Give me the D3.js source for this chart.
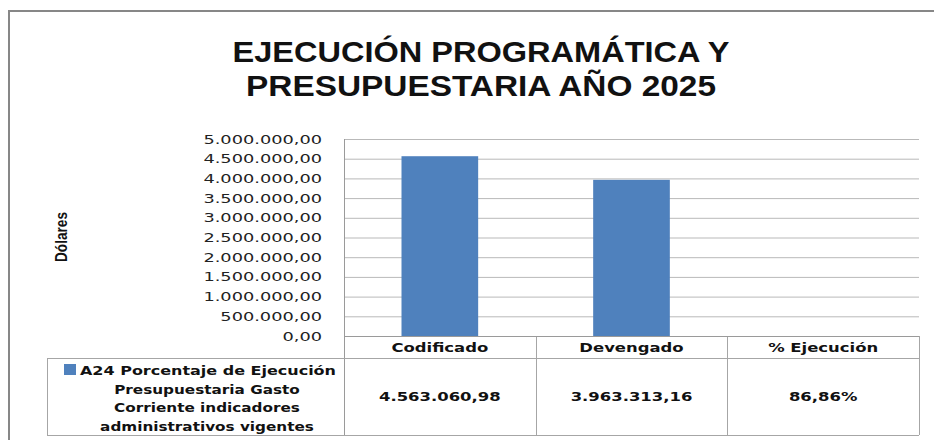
<!DOCTYPE html>
<html>
<head>
<meta charset="utf-8">
<script src="https://cdn.jsdelivr.net/npm/d3@7"></script>
<style>
  body { margin: 0; background: #fff; }
  svg { display: block; }
</style>
</head>
<body>
<div id="chart"></div>
<script>
const titleLines = ["EJECUCIÓN PROGRAMÁTICA Y", "PRESUPUESTARIA AÑO 2025"]
const categories = ["Codificado", "Devengado", "% Ejecución"]
const values = [4563060.98, 3963313.16, 86.86]
const tableLabels = ["4.563.060,98", "3.963.313,16", "86,86%"]
const seriesName = ["A24 Porcentaje de Ejecución", "Presupuestaria Gasto", "Corriente indicadores", "administrativos vigentes"]
const yTicks = [0, 500000, 1000000, 1500000, 2000000, 2500000, 3000000, 3500000, 4000000, 4500000, 5000000]
const yTitle = "Dólares"

const width = 934
const height = 440
const plot = { left: 344, right: 919, top: 139, bottom: 336 }
const tableBottom = 435
const headerBottom = 358
const legendLeft = 47
const barColor = "#4f81bd"
const gridColor = "#b9b9b9"
const tableLine = "#a6a6a6"

const es = d3.formatLocale({ decimal: ",", thousands: ".", grouping: [3], currency: ["", ""] })
const fmt = es.format(",.2f")

const svg = d3.select("#chart").append("svg")
  .attr("width", width)
  .attr("height", height)

// the picture is stretched sideways, so text gets widened too
function stretch(sel, sx) {
  sel.each(function() {
    const w = this.getComputedTextLength()
    d3.select(this).attr("textLength", w * sx).attr("lengthAdjust", "spacingAndGlyphs")
  })
}

// outer frame (only left and top are visible)
svg.append("path")
  .attr("d", `M9,${height + 5} V11 H${width + 5}`)
  .attr("fill", "none")
  .attr("stroke", "#878787")
  .attr("stroke-width", 2)

// title
svg.append("g").selectAll("text")
  .data(titleLines)
  .join("text")
    .attr("x", 481)
    .attr("y", (d, i) => 62 + i * 34)
    .attr("text-anchor", "middle")
    .style("font-family", "'Liberation Sans', Arial, sans-serif")
    .style("font-weight", 700)
    .style("font-size", "30px")
    .attr("fill", "#111")
    .text(d => d)
    .attr("textLength", (d, i) => i === 0 ? 497 : 470)
    .attr("lengthAdjust", "spacingAndGlyphs")

const x = d3.scaleBand()
  .domain(categories)
  .range([plot.left, plot.right])
  .padding(0)

const y = d3.scaleLinear()
  .domain([0, 5000000])
  .range([plot.bottom, plot.top])

// gridlines
svg.append("g").selectAll("line")
  .data(yTicks)
  .join("line")
    .attr("x1", plot.left)
    .attr("x2", plot.right)
    .attr("y1", d => y(d) + 0.5)
    .attr("y2", d => y(d) + 0.5)
    .attr("stroke", gridColor)
    .attr("stroke-width", 1)

// y tick labels
svg.append("g").selectAll("text")
  .data(yTicks)
  .join("text")
    .attr("x", 322)
    .attr("y", d => y(d) + 4.5)
    .attr("text-anchor", "end")
    .style("font-family", "'DejaVu Sans', Verdana, sans-serif")
    .style("font-size", "12.5px")
    .attr("fill", "#222")
    .text(d => fmt(d))
    .call(stretch, 1.42)

// y axis title
svg.append("text")
  .attr("transform", "translate(67,237) rotate(-90)")
  .attr("text-anchor", "middle")
  .style("font-family", "'Liberation Sans', Arial, sans-serif")
  .style("font-weight", 700)
  .style("font-size", "16px")
  .attr("fill", "#111")
  .text(yTitle)
  .attr("textLength", 50)
  .attr("lengthAdjust", "spacingAndGlyphs")

// bars
const barW = x.bandwidth() * 0.4
svg.append("g").selectAll("rect")
  .data(categories)
  .join("rect")
    .attr("x", d => x(d) + (x.bandwidth() - barW) / 2)
    .attr("y", (d, i) => y(values[i]))
    .attr("width", barW)
    .attr("height", (d, i) => y(0) - y(values[i]))
    .attr("fill", barColor)

// data table
const tbl = svg.append("g")
  .attr("stroke", tableLine)
  .attr("stroke-width", 1)

const colEdges = categories.map(d => x(d)).concat([plot.right])
tbl.selectAll("line.v")
  .data(colEdges)
  .join("line")
    .attr("class", "v")
    .attr("x1", d => Math.round(d) + 0.5)
    .attr("x2", d => Math.round(d) + 0.5)
    .attr("y1", (d, i) => i === 0 ? plot.top : plot.bottom)
    .attr("y2", tableBottom)
    .attr("stroke", (d, i) => i === 0 ? "#9a9a9a" : tableLine)

tbl.append("line")
  .attr("x1", plot.left).attr("x2", plot.right)
  .attr("y1", plot.bottom + 0.5).attr("y2", plot.bottom + 0.5)
  .attr("stroke", "#9a9a9a")
tbl.selectAll("line.h")
  .data([headerBottom, tableBottom])
  .join("line")
    .attr("class", "h")
    .attr("x1", legendLeft)
    .attr("x2", plot.right)
    .attr("y1", d => d + 0.5)
    .attr("y2", d => d + 0.5)
tbl.append("line")
  .attr("x1", legendLeft + 0.5).attr("x2", legendLeft + 0.5)
  .attr("y1", headerBottom).attr("y2", tableBottom)

const tableFont = "'DejaVu Sans', Verdana, sans-serif"

// header row
svg.append("g").selectAll("text")
  .data(categories)
  .join("text")
    .attr("x", d => x(d) + x.bandwidth() / 2)
    .attr("y", 352)
    .attr("text-anchor", "middle")
    .style("font-family", tableFont)
    .style("font-weight", 700)
    .style("font-size", "12px")
    .attr("fill", "#111")
    .text(d => d)
    .call(stretch, 1.37)

// value row
svg.append("g").selectAll("text")
  .data(categories)
  .join("text")
    .attr("x", d => x(d) + x.bandwidth() / 2)
    .attr("y", 401)
    .attr("text-anchor", "middle")
    .style("font-family", tableFont)
    .style("font-weight", 700)
    .style("font-size", "12px")
    .attr("fill", "#111")
    .text((d, i) => tableLabels[i])
    .call(stretch, 1.37)

// legend key in the table
svg.append("rect")
  .attr("x", 64)
  .attr("y", 364)
  .attr("width", 12)
  .attr("height", 11)
  .attr("fill", barColor)

const legendText = svg.append("g").selectAll("text")
  .data(seriesName)
  .join("text")
    .attr("x", (d, i) => i === 0 ? 80 : 207)
    .attr("y", (d, i) => 375 + i * 18.7)
    .attr("text-anchor", (d, i) => i === 0 ? "start" : "middle")
    .style("font-family", tableFont)
    .style("font-weight", 700)
    .style("font-size", "12px")
    .attr("fill", "#111")
    .text(d => d)
    .call(stretch, 1.27)
legendText.filter((d, i) => i === 0)
  .attr("textLength", 256)
</script>
</body>
</html>
